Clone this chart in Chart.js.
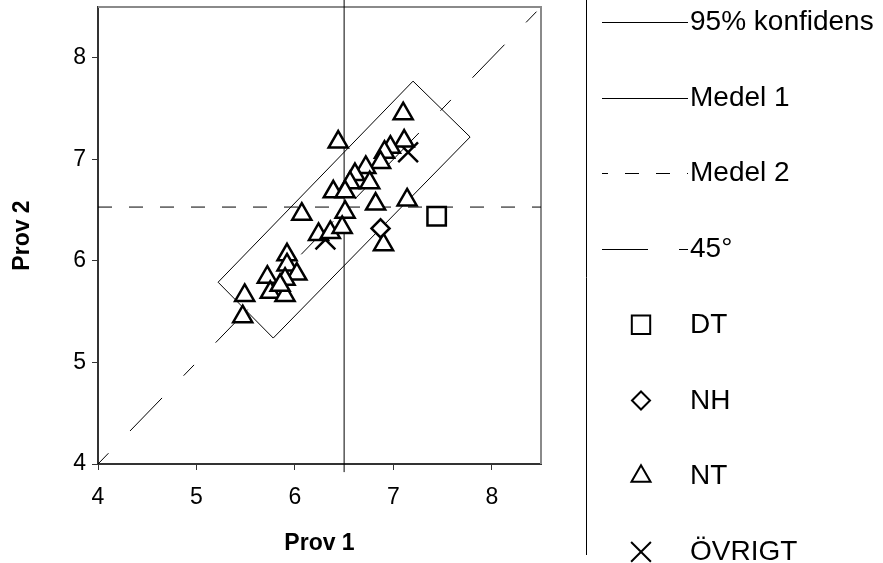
<!DOCTYPE html>
<html>
<head>
<meta charset="utf-8">
<script src="https://cdn.jsdelivr.net/npm/chart.js@4/dist/chart.umd.min.js"></script>
<style>
  html, body { margin: 0; padding: 0; background: #fff; }
  #wrap { width: 883px; height: 563px; }
</style>
</head>
<body>
<div id="wrap"><canvas id="c" width="883" height="563"></canvas></div>
<script>
// ---- data ----
const xTicks = [4, 5, 6, 7, 8];
const yTicks = [4, 5, 6, 7, 8];

// 95% confidence region (closed outline)
const konfX = [7.20, 7.78, 5.78, 5.22, 7.20];
const konfY = [7.77, 7.22, 5.24, 5.79, 7.77];

// mean of Prov 1 (vertical) and mean of Prov 2 (horizontal)
const medel1X = [6.50, 6.50];
const medel1Y = [3.92, 8.70];
const medel2X = [4.0, 8.5];
const medel2Y = [6.53, 6.53];

// identity line
const diagX = [4.0, 8.5];
const diagY = [4.0, 8.5];

const dtX = [7.44];
const dtY = [6.44];

const nhX = [6.87];
const nhY = [6.32];

const ntX = [7.10, 6.44, 7.11, 6.97, 6.91, 6.87, 6.72, 6.61, 6.56, 6.76,
             6.39, 6.51, 6.82, 7.14, 6.51, 6.07, 6.90, 6.24, 6.36, 6.48,
             5.92, 5.92, 6.02, 5.72, 5.90, 5.75, 5.90, 5.49, 5.47, 5.85];
const ntY = [7.45, 7.17, 7.18, 7.12, 7.07, 6.97, 6.92, 6.85, 6.77, 6.77,
             6.68, 6.68, 6.56, 6.60, 6.48, 6.46, 6.16, 6.26, 6.28, 6.33,
             6.06, 5.96, 5.87, 5.84, 5.82, 5.69, 5.66, 5.66, 5.45, 5.76];

const ovrX = [7.15, 6.31];
const ovrY = [7.07, 6.21];

const seriesNames = ['95% konfidens', 'Medel 1', 'Medel 2', '45\u00B0', 'DT', 'NH', 'NT', '\u00D6VRIGT'];

// ---- helpers ----
const pts = (xs, ys) => xs.map((x, i) => ({ x: x, y: ys[i] }));
const FONT = 'Liberation Sans, Arial, Helvetica, sans-serif';

function lineSet(label, xs, ys, extra) {
  return Object.assign({
    label: label,
    data: pts(xs, ys),
    showLine: true,
    borderColor: '#000',
    borderWidth: 1,
    pointRadius: 0,
    fill: false,
    order: 1
  }, extra || {});
}
function markerSet(label, xs, ys, style, radius) {
  return {
    label: label,
    data: pts(xs, ys),
    showLine: false,
    pointStyle: style,
    pointRadius: radius,
    pointHoverRadius: radius,
    pointBorderWidth: 2.5,
    borderColor: '#000',
    backgroundColor: '#fff',
    order: 0
  };
}

const datasets = [
  lineSet(seriesNames[0], konfX, konfY),
  lineSet(seriesNames[1], medel1X, medel1Y, { clip: false }),
  lineSet(seriesNames[2], medel2X, medel2Y, { borderDash: [14, 17] }),
  lineSet(seriesNames[3], diagX, diagY, { borderDash: [15, 31, 46, 31] }),
  markerSet(seriesNames[4], dtX, dtY, 'rect', 13),
  markerSet(seriesNames[5], nhX, nhY, 'rectRot', 9),
  markerSet(seriesNames[6], ntX, ntY, 'triangle', 11),
  markerSet(seriesNames[7], ovrX, ovrY, 'crossRot', 14)
];

// dash phase used for the legend samples
const legendDashOffset = { 2: 8, 3: 46 };

// plot frame: grey top/right edges
const framePlugin = {
  id: 'frame',
  beforeDatasetsDraw(chart) {
    const a = chart.chartArea, ctx = chart.ctx;
    ctx.save();
    ctx.strokeStyle = '#8a8a8a';
    ctx.lineWidth = 2;
    ctx.beginPath();
    ctx.moveTo(a.left, a.top);
    ctx.lineTo(a.right, a.top);
    ctx.lineTo(a.right, a.bottom);
    ctx.stroke();
    ctx.restore();
  }
};

// legend column on the right
const legendLayout = { border: 586.5, borderBottom: 555, lineX0: 602, lineX1: 688, markerX: 641, textX: 690, firstY: 22, step: 75.7, fontSize: 28 };
const legendPlugin = {
  id: 'sideLegend',
  afterDraw(chart) {
    const L = legendLayout, ctx = chart.ctx;
    ctx.save();
    ctx.strokeStyle = '#000';
    ctx.lineWidth = 1;
    ctx.beginPath();
    ctx.moveTo(L.border, 0);
    ctx.lineTo(L.border, L.borderBottom);
    ctx.stroke();

    chart.data.datasets.forEach((ds, i) => {
      const y = L.firstY + i * L.step;
      if (ds.showLine) {
        ctx.save();
        ctx.strokeStyle = ds.borderColor;
        ctx.lineWidth = ds.borderWidth;
        ctx.setLineDash(ds.borderDash || []);
        ctx.lineDashOffset = legendDashOffset[i] || 0;
        ctx.beginPath();
        ctx.moveTo(L.lineX0, Math.round(y) + 0.5);
        ctx.lineTo(L.lineX1, Math.round(y) + 0.5);
        ctx.stroke();
        ctx.restore();
      } else {
        ctx.save();
        ctx.fillStyle = ds.backgroundColor;
        ctx.strokeStyle = ds.borderColor;
        ctx.lineWidth = 2;
        Chart.helpers.drawPoint(ctx, { pointStyle: ds.pointStyle, radius: ds.pointRadius, borderWidth: 2, rotation: 0 }, L.markerX, y);
        ctx.restore();
      }
      ctx.fillStyle = '#000';
      ctx.font = L.fontSize + 'px ' + FONT;
      ctx.textAlign = 'left';
      ctx.textBaseline = 'alphabetic';
      ctx.fillText(ds.label, L.textX, y + 8);
    });
    ctx.restore();
  }
};

const tickFont = { family: FONT, size: 23 };
const titleFont = { family: FONT, size: 23, weight: 'bold' };

new Chart(document.getElementById('c'), {
  type: 'scatter',
  data: { datasets: datasets },
  options: {
    responsive: false,
    animation: false,
    events: [],
    layout: { autoPadding: false, padding: { left: 0, right: 342, top: 7, bottom: 0 } },
    plugins: { legend: { display: false }, tooltip: { enabled: false } },
    scales: {
      x: {
        type: 'linear', min: 4, max: 8.5,
        afterBuildTicks: s => { s.ticks = xTicks.map(v => ({ value: v })); },
        afterFit: s => { s.height = 99; s.paddingLeft = 0; s.paddingRight = 0; },
        ticks: { font: tickFont, color: '#000', padding: 14, maxRotation: 0 },
        grid: { drawOnChartArea: false, drawTicks: true, tickLength: 6, tickColor: '#333', tickWidth: 1 },
        border: { display: true, color: '#333', width: 2 },
        title: { display: true, text: 'Prov 1', font: titleFont, color: '#000', padding: { top: 0, bottom: 6 } }
      },
      y: {
        type: 'linear', min: 4, max: 8.5,
        afterBuildTicks: s => { s.ticks = yTicks.map(v => ({ value: v })); },
        afterFit: s => { s.width = 98; s.paddingTop = 0; s.paddingBottom = 0; },
        ticks: { font: tickFont, color: '#000', padding: 6 },
        grid: { drawOnChartArea: false, drawTicks: true, tickLength: 6, tickColor: '#333', tickWidth: 1 },
        border: { display: true, color: '#333', width: 2 },
        title: { display: true, text: 'Prov 2', font: titleFont, color: '#000', padding: { top: 9, bottom: 0 } }
      }
    }
  },
  plugins: [framePlugin, legendPlugin]
});
</script>
</body>
</html>
